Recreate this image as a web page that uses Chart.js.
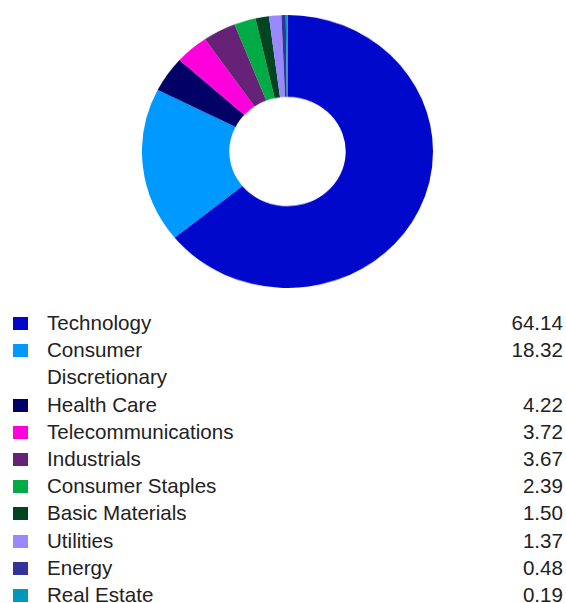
<!DOCTYPE html>
<html lang="en">

<head>
    <meta charset="UTF-8" />
    <title>Sector Allocation</title>
    <script src="https://cdn.jsdelivr.net/npm/chart.js"></script>
    <style>
        body {
            margin: 0;
            background: #fff;
            font-family: "Liberation Sans", Arial, sans-serif;
            color: #222;
        }

        #chartBox {
            position: absolute;
            left: 142px;
            top: 15px;
        }

        #grafica {
            width: 291px !important;
            height: 273px !important;
        }

        #leyenda {
            position: absolute;
            left: 0;
            top: 309px;
            width: 566px;
            border-collapse: collapse;
            font-size: 20.6px;
        }

        #leyenda td {
            padding: 0;
            line-height: 27.2px;
            height: 27.2px;
            vertical-align: top;
        }

        .swatch {
            display: inline-block;
            width: 15px;
            height: 13px;
            margin: 7px 0 0 13px;
        }

        .etiqueta {
            width: 205px;
        }

        .valor {
            text-align: right;
            padding-right: 3px !important;
        }
    </style>
</head>

<body>
    <div id="chartBox">
        <canvas id="grafica" width="291" height="291"></canvas>
    </div>
    <table id="leyenda"></table>

    <script>
        const sectores = ["Technology", "Consumer Discretionary", "Health Care", "Telecommunications",
            "Industrials", "Consumer Staples", "Basic Materials", "Utilities", "Energy", "Real Estate"];
        const pesos = [64.14, 18.32, 4.22, 3.72, 3.67, 2.39, 1.50, 1.37, 0.48, 0.19];
        const colores = ["#0008CC", "#0099FF", "#000066", "#FF00DD", "#662277",
            "#00AA44", "#004422", "#9988FF", "#333399", "#0099BB"];

        // leyenda en HTML
        const tabla = document.getElementById("leyenda");
        sectores.forEach((s, i) => {
            tabla.innerHTML += `
          <tr>
            <td style="width:47px"><span class="swatch" style="background:${colores[i]}"></span></td>
            <td class="etiqueta">${s}</td>
            <td class="valor">${pesos[i].toFixed(2)}</td>
          </tr>`;
        });

        new Chart(document.getElementById("grafica"), {
            type: 'doughnut',
            data: {
                labels: sectores,
                datasets: [{
                    data: pesos,
                    backgroundColor: colores,
                    borderWidth: 0
                }]
            },
            options: {
                responsive: false,
                animation: false,
                cutout: '40%',
                plugins: {
                    legend: { display: false },
                    tooltip: { enabled: false }
                }
            }
        });
    </script>
</body>

</html>
